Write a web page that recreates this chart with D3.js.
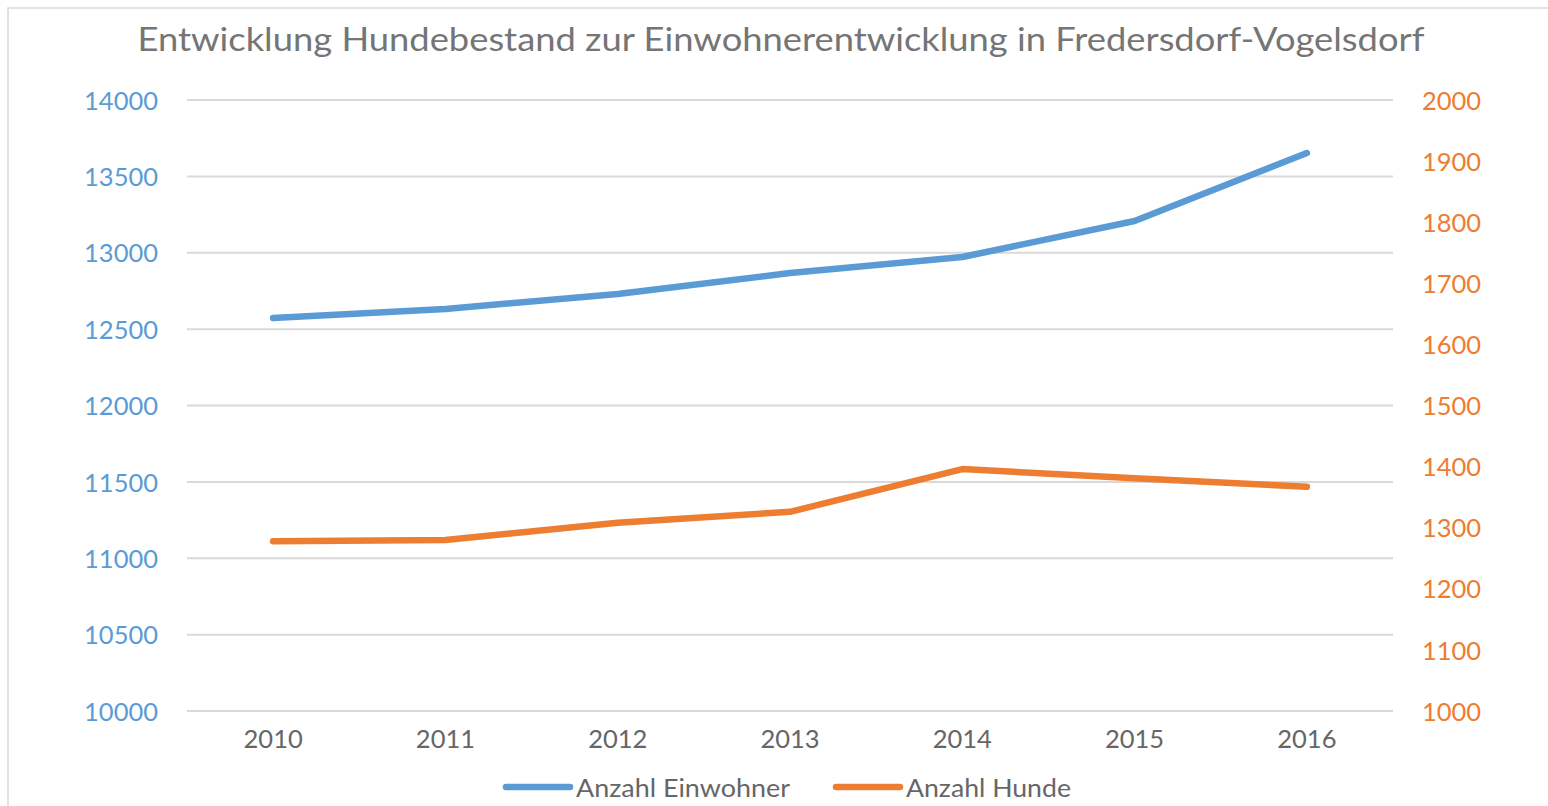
<!DOCTYPE html>
<html>
<head>
<meta charset="utf-8">
<script src="https://cdn.jsdelivr.net/npm/d3@7"></script>
<style>
  html, body { margin: 0; padding: 0; background: #fff; }
  svg { display: block; }
  text { font-family: Lato, "Open Sans", sans-serif; }
</style>
</head>
<body>
<svg id="chart" width="1548" height="806"></svg>
<script>
// ---- data ----
const years = ["2010", "2011", "2012", "2013", "2014", "2015", "2016"];
const einwohner = [12573, 12632, 12730, 12867, 12972, 13208, 13653];
const hunde = [1278, 1280, 1308, 1326, 1396, 1381, 1367];
const leftTicks = [10000, 10500, 11000, 11500, 12000, 12500, 13000, 13500, 14000];
const rightTicks = [1000, 1100, 1200, 1300, 1400, 1500, 1600, 1700, 1800, 1900, 2000];
const titleText = "Entwicklung Hundebestand zur Einwohnerentwicklung in Fredersdorf-Vogelsdorf";
const seriesNames = ["Anzahl Einwohner", "Anzahl Hunde"];

// ---- layout ----
const BLUE = "#5B9BD5", ORANGE = "#ED7D31", GRID = "#D9D9D9";
const plot = { left: 187, right: 1393, top: 100, bottom: 711 };
const svg = d3.select("#chart");

// chart border
svg.append("rect").attr("x", 8).attr("y", 8).attr("width", 1560).attr("height", 820)
  .attr("fill", "#fff").attr("stroke", "#D9D9D9").attr("stroke-width", 1.5);

const x = d3.scaleBand().domain(years).range([plot.left, plot.right]);
const yL = d3.scaleLinear().domain([10000, 14000]).range([plot.bottom, plot.top]);
const yR = d3.scaleLinear().domain([1000, 2000]).range([plot.bottom, plot.top]);

// title
svg.append("text").attr("x", 781).attr("y", 51).attr("text-anchor", "middle")
  .attr("font-size", 33.5).attr("fill", "#757575")
  .attr("textLength", 1287).attr("lengthAdjust", "spacingAndGlyphs")
  .text(titleText);

// gridlines
svg.append("g").selectAll("line").data(leftTicks).join("line")
  .attr("x1", plot.left).attr("x2", plot.right)
  .attr("y1", d => yL(d)).attr("y2", d => yL(d))
  .attr("stroke", GRID).attr("stroke-width", 2);

// left axis
const axL = svg.append("g").attr("transform", `translate(${plot.left},0)`)
  .call(d3.axisLeft(yL).tickValues(leftTicks).tickSize(0).tickPadding(29).tickFormat(d3.format("d")));
axL.select(".domain").remove();
axL.selectAll("text").attr("font-size", 25.5).attr("fill", BLUE)
  .attr("font-family", "Lato, 'Open Sans', sans-serif").attr("dy", "0.36em");

// right axis
const axR = svg.append("g").attr("transform", `translate(${plot.right},0)`)
  .call(d3.axisRight(yR).tickValues(rightTicks).tickSize(0).tickPadding(29).tickFormat(d3.format("d")));
axR.select(".domain").remove();
axR.selectAll("text").attr("font-size", 25.5).attr("fill", ORANGE)
  .attr("font-family", "Lato, 'Open Sans', sans-serif").attr("dy", "0.36em");

// bottom axis
const axB = svg.append("g").attr("transform", `translate(0,${plot.bottom})`)
  .call(d3.axisBottom(x).tickSize(0).tickPadding(19));
axB.select(".domain").remove();
axB.selectAll("text").attr("font-size", 25.5).attr("fill", "#666666")
  .attr("font-family", "Lato, 'Open Sans', sans-serif").attr("dy", "0.71em");

// lines
const cx = d => x(d) + x.bandwidth() / 2;
const lineL = d3.line().x((d, i) => cx(years[i])).y(d => yL(d));
const lineR = d3.line().x((d, i) => cx(years[i])).y(d => yR(d));

svg.append("path").datum(einwohner).attr("d", lineL)
  .attr("fill", "none").attr("stroke", BLUE).attr("stroke-width", 6.5)
  .attr("stroke-linecap", "round").attr("stroke-linejoin", "round");
svg.append("path").datum(hunde).attr("d", lineR)
  .attr("fill", "none").attr("stroke", ORANGE).attr("stroke-width", 6.5)
  .attr("stroke-linecap", "round").attr("stroke-linejoin", "round");

// legend
const legend = [
  { name: seriesNames[0], color: BLUE, x0: 506, x1: 570, tx: 576, len: 214 },
  { name: seriesNames[1], color: ORANGE, x0: 836, x1: 900, tx: 906, len: 165 }
];
const lg = svg.append("g").selectAll("g").data(legend).join("g");
lg.append("line").attr("x1", d => d.x0).attr("x2", d => d.x1)
  .attr("y1", 787).attr("y2", 787).attr("stroke", d => d.color)
  .attr("stroke-width", 6.5).attr("stroke-linecap", "round");
lg.append("text").attr("x", d => d.tx).attr("y", 796.5)
  .attr("font-size", 25.5).attr("fill", "#666666")
  .attr("textLength", d => d.len).attr("lengthAdjust", "spacingAndGlyphs")
  .text(d => d.name);
</script>
</body>
</html>
